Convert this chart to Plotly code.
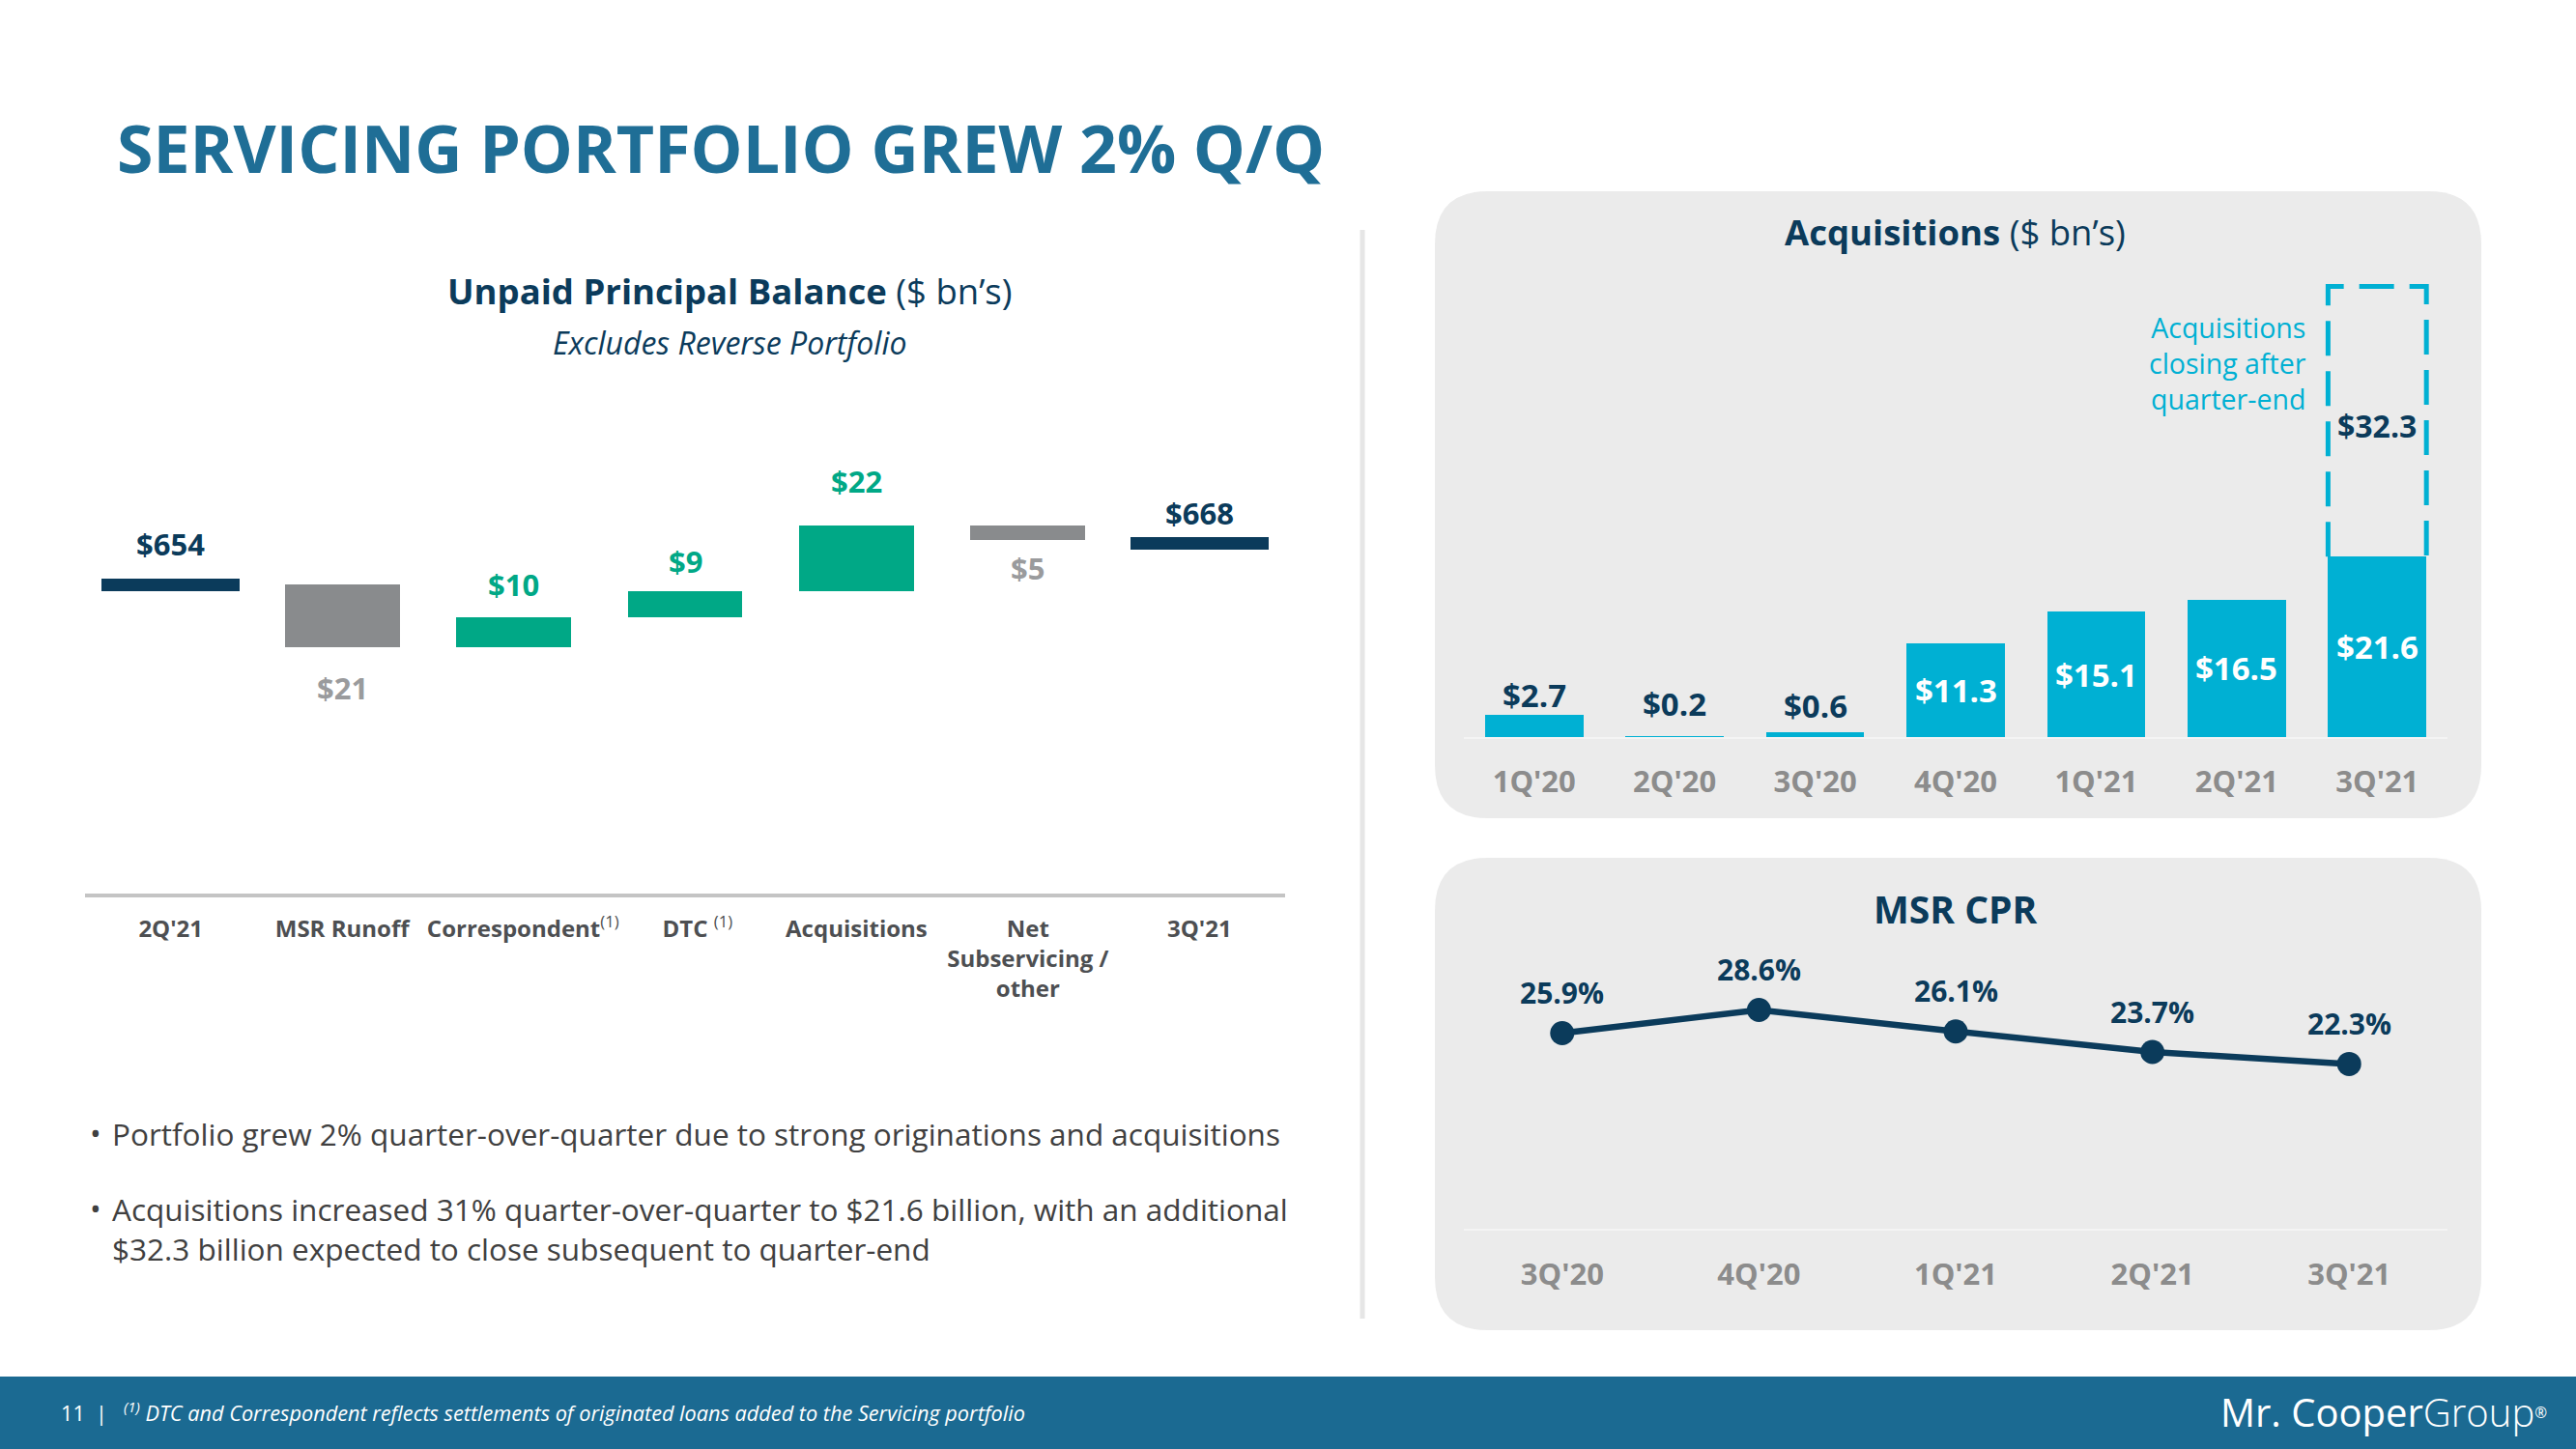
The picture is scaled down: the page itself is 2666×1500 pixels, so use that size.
import plotly.graph_objects as go

W, H = 2666, 1500

# ---------------- data ----------------
wf_categories = ["2Q'21", "MSR Runoff", "Correspondent", "DTC", "Acquisitions",
                 "Net Subservicing / other", "3Q'21"]
_ghost = "<span style='color:rgba(0,0,0,0)'><sup>(1)</sup></span>"
wf_tick_labels = ["<b>2Q'21</b>", "<b>MSR Runoff</b>",
                  _ghost + "<b>Correspondent</b><sup>(1)</sup>",
                  "<span style='color:rgba(0,0,0,0)'> <sup>(1)</sup></span><b>DTC</b> <sup>(1)</sup>",
                  "<b>Acquisitions</b>",
                  "<b>Net<br>Subservicing /<br>other</b>", "<b>3Q'21</b>"]
wf_values = [654, -21, 10, 9, 22, -5, 668]
wf_kinds = ["total", "delta", "delta", "delta", "delta", "delta", "total"]
wf_labels = ["$654", "$21", "$10", "$9", "$22", "$5", "$668"]

acq_quarters = ["1Q'20", "2Q'20", "3Q'20", "4Q'20", "1Q'21", "2Q'21", "3Q'21"]
acq_values = [2.7, 0.2, 0.6, 11.3, 15.1, 16.5, 21.6]
acq_labels = ["$2.7", "$0.2", "$0.6", "$11.3", "$15.1", "$16.5", "$21.6"]
acq_pending = 32.3
acq_pending_label = "$32.3"

cpr_quarters = ["3Q'20", "4Q'20", "1Q'21", "2Q'21", "3Q'21"]
cpr_values = [25.9, 28.6, 26.1, 23.7, 22.3]
cpr_labels = ["25.9%", "28.6%", "26.1%", "23.7%", "22.3%"]

# ---------------- styles ----------------
FONT = "Open Sans"
NAVY = "#0B3B5B"
TITLE_BLUE = "#1F6E96"
GREEN = "#00A886"
GRAY_BAR = "#898B8D"
GRAY_LBL = "#9A9B9D"
CYAN = "#00B0D3"
PANEL = "#EBEBEB"
FOOTER = "#1B6A92"
TEXT = "#404040"

def px(x):
    return x / W

def py(y):
    return 1 - y / H

fig = go.Figure()

# ---------------- waterfall ----------------
total_thick = 4.4
bases, heights, colors, widths = [], [], [], []
running = None
for v, k in zip(wf_values, wf_kinds):
    if k == "total":
        bases.append(v - total_thick / 2)
        heights.append(total_thick)
        colors.append(NAVY)
        widths.append(0.805)
        running = v
    else:
        if v >= 0:
            bases.append(running)
            colors.append(GREEN)
        else:
            bases.append(running + v)
            colors.append(GRAY_BAR)
        heights.append(abs(v))
        widths.append(0.67)
        running += v

xi = list(range(len(wf_categories)))
fig.add_trace(go.Bar(x=xi, y=heights, base=bases, marker=dict(color=colors, line=dict(width=0)),
                     width=widths, xaxis="x", yaxis="y", showlegend=False, hoverinfo="skip"))

wf_offsets = [42, 42, 34, 31, 46, 29, 32]
annotations = []
for i, (v, k, lab) in enumerate(zip(wf_values, wf_kinds, wf_labels)):
    if k == "total":
        y, sh, col = v, wf_offsets[i], NAVY
    elif v >= 0:
        y, sh, col = bases[i] + heights[i], wf_offsets[i], GREEN
    else:
        y, sh, col = bases[i], -wf_offsets[i], GRAY_LBL
    annotations.append(dict(x=i, y=y, xref="x", yref="y", text="<b>%s</b>" % lab, showarrow=False,
                            yshift=sh, yanchor="middle", font=dict(family=FONT, size=31, color=col)))

# ---------------- acquisitions ----------------
xa = list(range(len(acq_quarters)))
fig.add_trace(go.Bar(x=xa, y=acq_values, marker=dict(color=CYAN, line=dict(width=0)), width=0.7,
                     xaxis="x2", yaxis="y2", showlegend=False, hoverinfo="skip"))
acq_out_offsets = [21, 33, 28]
for i, (v, lab) in enumerate(zip(acq_values, acq_labels)):
    if v < 5:
        annotations.append(dict(x=i, y=v, xref="x2", yref="y2", text="<b>%s</b>" % lab, showarrow=False,
                                yshift=acq_out_offsets[i], yanchor="middle",
                                font=dict(family=FONT, size=33, color=NAVY)))
    else:
        annotations.append(dict(x=i, y=v / 2, xref="x2", yref="y2", text="<b>%s</b>" % lab, showarrow=False,
                                yanchor="middle", font=dict(family=FONT, size=33, color="white")))
last = len(acq_values) - 1
annotations.append(dict(x=last, y=acq_values[last] + acq_pending / 2, xref="x2", yref="y2",
                        text="<b>%s</b>" % acq_pending_label, showarrow=False, yanchor="middle",
                        yshift=-4, font=dict(family=FONT, size=32, color=NAVY)))

# ---------------- MSR CPR ----------------
xc = list(range(len(cpr_quarters)))
fig.add_trace(go.Scatter(x=xc, y=cpr_values, mode="lines+markers",
                         line=dict(color=NAVY, width=6.5), marker=dict(color=NAVY, size=25),
                         xaxis="x3", yaxis="y3", showlegend=False, hoverinfo="skip"))
for i, (v, lab) in enumerate(zip(cpr_values, cpr_labels)):
    annotations.append(dict(x=i, y=v, xref="x3", yref="y3", text="<b>%s</b>" % lab, showarrow=False,
                            yshift=42, yanchor="middle", font=dict(family=FONT, size=30, color=NAVY)))

# ---------------- text ----------------
annotations += [
    dict(x=px(119), y=py(153), xref="paper", yref="paper", xanchor="left", yanchor="middle",
         text="<b>SERVICING PORTFOLIO GREW 2% Q/Q</b>", showarrow=False,
         font=dict(family=FONT, size=68, color=TITLE_BLUE)),
    dict(x=px(755), y=py(301), xref="paper", yref="paper", xanchor="center", yanchor="middle",
         text="<b>Unpaid Principal Balance</b> ($ bn’s)", showarrow=False,
         font=dict(family=FONT, size=36.5, color=NAVY)),
    dict(x=px(755), y=py(354), xref="paper", yref="paper", xanchor="center", yanchor="middle",
         text="<i>Excludes Reverse Portfolio</i>", showarrow=False,
         font=dict(family=FONT, size=32, color=NAVY)),
    dict(x=px(2023), y=py(240), xref="paper", yref="paper", xanchor="center", yanchor="middle",
         text="<b>Acquisitions</b> ($ bn’s)", showarrow=False,
         font=dict(family=FONT, size=36.5, color=NAVY)),
    dict(x=px(2389), y=py(376), xref="paper", yref="paper", xanchor="right", yanchor="middle",
         text="Acquisitions<br>closing after<br>quarter-end", showarrow=False, align="right",
         font=dict(family=FONT, size=28.5, color=CYAN)),
    dict(x=px(2023), y=py(940), xref="paper", yref="paper", xanchor="center", yanchor="middle",
         text="<b>MSR CPR</b>", showarrow=False,
         font=dict(family=FONT, size=39, color=NAVY)),
    # bullets
    dict(x=px(91), y=py(1173), xref="paper", yref="paper", xanchor="left", yanchor="middle",
         text="•", showarrow=False, font=dict(family=FONT, size=31, color=TEXT)),
    dict(x=px(114), y=py(1173), xref="paper", yref="paper", xanchor="left", yanchor="middle",
         text="Portfolio grew 2% quarter-over-quarter due to strong originations and acquisitions",
         showarrow=False, font=dict(family=FONT, size=31.5, color=TEXT)),
    dict(x=px(91), y=py(1251), xref="paper", yref="paper", xanchor="left", yanchor="middle",
         text="•", showarrow=False, font=dict(family=FONT, size=31, color=TEXT)),
    dict(x=px(114), y=py(1272), xref="paper", yref="paper", xanchor="left", yanchor="middle",
         text="Acquisitions increased 31% quarter-over-quarter to $21.6 billion, with an additional<br>"
              "$32.3 billion expected to close subsequent to quarter-end",
         showarrow=False, align="left", font=dict(family=FONT, size=31.5, color=TEXT)),
    # footer
    dict(x=px(61), y=py(1461), xref="paper", yref="paper", xanchor="left", yanchor="middle",
         text="11  |   <i><sup>(1)</sup> DTC and Correspondent reflects settlements of originated loans added to the Servicing portfolio</i>",
         showarrow=False, font=dict(family=FONT, size=21.7, color="white")),
    dict(x=px(2638), y=py(1461), xref="paper", yref="paper", xanchor="right", yanchor="middle",
         text="Mr. Cooper<span style='font-weight:300'>Group</span><span style='font-size:22px'><sup>®</sup></span>",
         showarrow=False, font=dict(family=FONT, size=40, color="white")),
]

# ---------------- shapes ----------------
def rounded(x0, y0, x1, y1, r, color):
    rx, ry = r / W, r / H
    X0, X1 = px(x0), px(x1)
    Y0, Y1 = py(y1), py(y0)  # bottom, top in paper
    path = (f"M {X0+rx},{Y1} L {X1-rx},{Y1} Q {X1},{Y1} {X1},{Y1-ry} "
            f"L {X1},{Y0+ry} Q {X1},{Y0} {X1-rx},{Y0} L {X0+rx},{Y0} "
            f"Q {X0},{Y0} {X0},{Y0+ry} L {X0},{Y1-ry} Q {X0},{Y1} {X0+rx},{Y1} Z")
    return dict(type="path", path=path, xref="paper", yref="paper", fillcolor=color,
                line=dict(width=0), layer="below")

bx0, bx1 = last - 0.35, last + 0.35
by0, by1 = acq_values[last], acq_values[last] + acq_pending
shapes = [
    rounded(1485, 198, 2568, 847, 55, PANEL),
    rounded(1485, 888, 2568, 1377, 55, PANEL),
    dict(type="line", xref="paper", yref="paper", x0=px(1410), x1=px(1410), y0=py(238), y1=py(1365),
         line=dict(color="#E6E6E6", width=5), layer="below"),
    dict(type="rect", xref="paper", yref="paper", x0=0, x1=1, y0=0, y1=py(1425),
         fillcolor=FOOTER, line=dict(width=0), layer="below"),
    dict(type="path", xref="x2", yref="y2",
         path=f"M {bx0},{by0} L {bx0},{by1} L {bx1},{by1} L {bx1},{by0}",
         line=dict(color=CYAN, width=5, dash="36px,16px")),
]

# ---------------- axes ----------------
def axis_common():
    return dict(showgrid=False, zeroline=False, ticks="", fixedrange=True, tickangle=0)

fig.update_layout(
    width=W, height=H, margin=dict(l=0, r=0, t=0, b=0),
    paper_bgcolor="white", plot_bgcolor="rgba(0,0,0,0)",
    font=dict(family=FONT),
    annotations=annotations, shapes=shapes, bargap=0,
    xaxis=dict(domain=[px(88), px(1330)], range=[-0.5, 6.5], tickvals=xi, ticktext=wf_tick_labels,
               tickfont=dict(family=FONT, size=24, color="#4D4F52"), showline=True,
               linecolor="#C4C4C4", linewidth=4, ticklabelstandoff=12, anchor="y", **axis_common()),
    yaxis=dict(domain=[py(925), py(400)], range=[549.6, 721.1], visible=False, anchor="x", **axis_common()),
    xaxis2=dict(domain=[px(1515), px(2533)], range=[-0.5, 6.5], tickvals=xa, ticktext=["<b>%s</b>" % q for q in acq_quarters],
                tickfont=dict(family=FONT, size=31, color="#8C8C8C"), showline=True,
                linecolor="#F4F4F4", linewidth=2, ticklabelstandoff=17, anchor="y2", **axis_common()),
    yaxis2=dict(domain=[py(763.4), py(278.4)], range=[0, 56], visible=False, anchor="x2", **axis_common()),
    xaxis3=dict(domain=[px(1515), px(2533)], range=[-0.5, 4.5], tickvals=xc, ticktext=["<b>%s</b>" % q for q in cpr_quarters],
                tickfont=dict(family=FONT, size=31, color="#8C8C8C"), showline=True,
                linecolor="#F4F4F4", linewidth=2, ticklabelstandoff=19, anchor="y3", **axis_common()),
    yaxis3=dict(domain=[py(1272), py(980)], range=[3.09, 35.98], visible=False, anchor="x3", **axis_common()),
)

fig.write_html("out.html", config={"displayModeBar": False, "staticPlot": True},
               post_script="document.body.style.margin='0';document.body.style.overflow='hidden';")
